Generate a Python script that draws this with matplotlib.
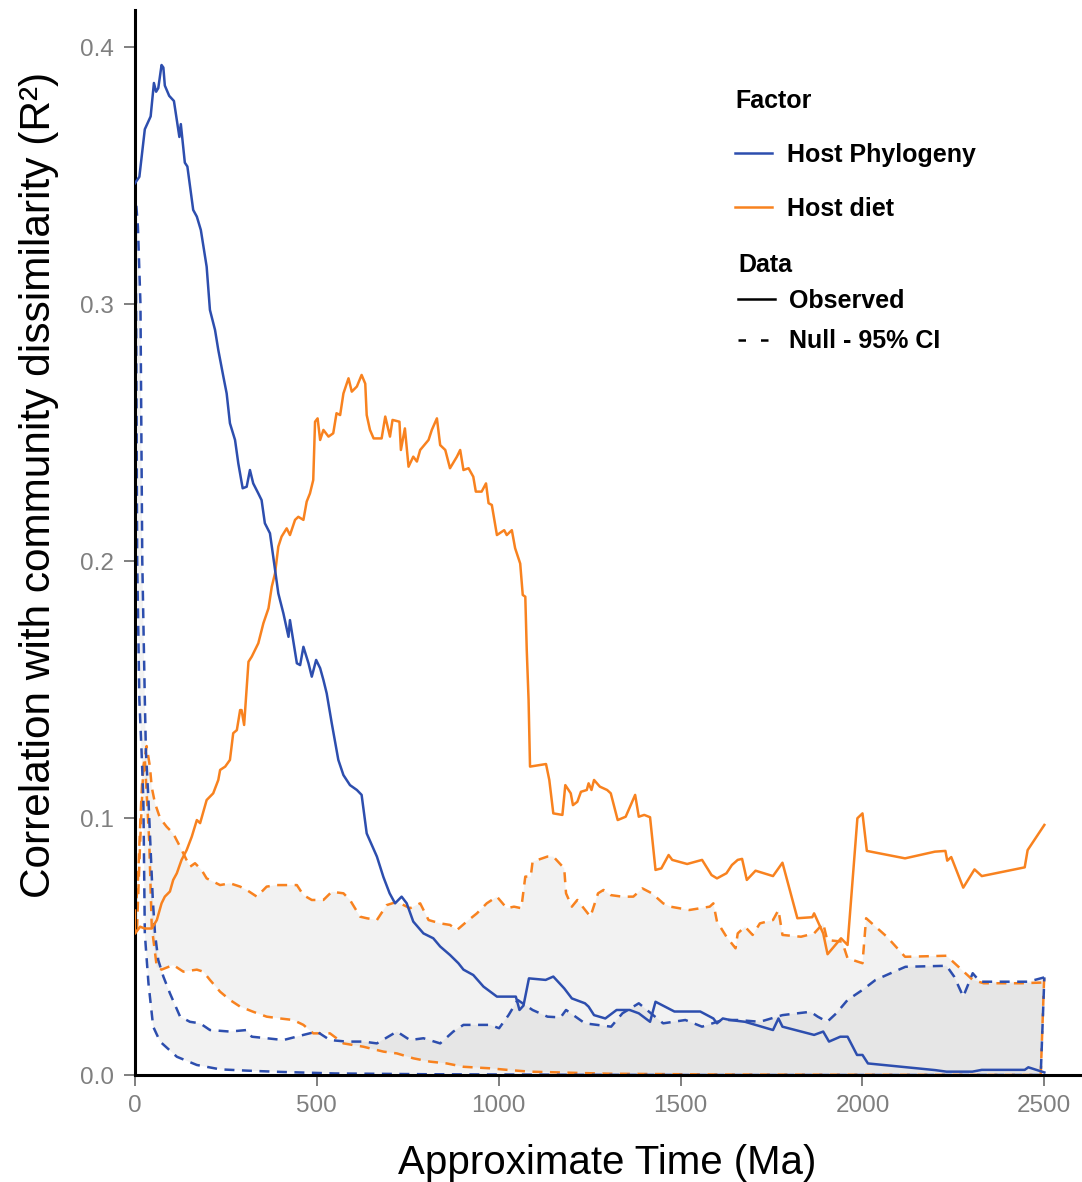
import numpy as np
import matplotlib
matplotlib.use('Agg')
import matplotlib.pyplot as plt
from matplotlib.lines import Line2D

plt.rcParams['font.family'] = ['Liberation Sans', 'DejaVu Sans']

# Observed - Host Phylogeny
phylo_x = [0, 12, 27, 43, 52, 58, 64, 73, 78, 82, 94, 107, 122, 126, 137, 144, 160, 170, 181, 197,
           206, 220, 229, 243, 252, 261, 275, 284, 296, 307, 316, 325, 339, 348, 357, 371, 380, 394,
           408, 422, 426, 445, 454, 463, 477, 486, 498, 509, 518, 527, 541, 559, 573, 591, 610, 623,
           637, 665, 683, 700, 715, 733, 747, 765, 793, 820, 839, 866, 889, 903, 930, 958, 995, 1047,
           1057, 1068, 1083, 1129, 1150, 1180, 1201, 1237, 1247, 1262, 1293, 1324, 1360, 1385, 1416,
           1431, 1483, 1554, 1590, 1600, 1616, 1636, 1677, 1754, 1769, 1780, 1867, 1892, 1908, 1939,
           1959, 1985, 2000, 2015, 2200, 2231, 2302, 2328, 2446, 2456, 2500]
phylo_y = [0.347, 0.3495, 0.368, 0.373, 0.386, 0.3826, 0.384, 0.393, 0.392, 0.385, 0.381, 0.379,
           0.365, 0.370, 0.355, 0.3535, 0.3366, 0.334, 0.3288, 0.3145, 0.2977, 0.2899, 0.2821,
           0.2717, 0.2652, 0.2536, 0.2471, 0.238, 0.2283, 0.2289, 0.2354, 0.2302, 0.2263, 0.2237,
           0.2147, 0.2108, 0.2017, 0.1874, 0.1796, 0.1705, 0.177, 0.1602, 0.1595, 0.1666, 0.1602,
           0.155, 0.1615, 0.1583, 0.1537, 0.1485, 0.1368, 0.1226, 0.1167, 0.1128, 0.1109, 0.109,
           0.094, 0.085, 0.077, 0.0707, 0.0668, 0.0694, 0.0668, 0.0597, 0.0551, 0.0532, 0.050,
           0.0467, 0.0435, 0.041, 0.0389, 0.0344, 0.0305, 0.0305, 0.0253, 0.027, 0.0376, 0.037,
           0.0383, 0.0337, 0.0298, 0.0279, 0.0266, 0.0233, 0.022, 0.0253, 0.0253, 0.024, 0.0207,
           0.0285, 0.0247, 0.0247, 0.022, 0.0201, 0.022, 0.0214, 0.0207, 0.0175, 0.022, 0.0188,
           0.0156, 0.0169, 0.013, 0.0149, 0.0149, 0.0078, 0.0078, 0.0045, 0.0019, 0.0013, 0.0013,
           0.002, 0.002, 0.003, 0.001]

# Observed - Host diet
diet_x = [0, 0, 14, 27, 46, 60, 73, 82, 96, 105, 115, 128, 142, 156, 170, 179, 197, 215, 229, 234,
          248, 261, 270, 280, 289, 293, 300, 312, 321, 339, 353, 367, 376, 385, 394, 403, 417, 426,
          440, 449, 463, 472, 481, 490, 495, 502, 509, 518, 532, 545, 554, 564, 573, 587, 596, 610,
          623, 633, 637, 646, 656, 678, 688, 701, 708, 727, 731, 742, 752, 765, 775, 784, 807, 816,
          830, 839, 853, 866, 885, 894, 903, 917, 930, 937, 953, 965, 972, 981, 995, 1015, 1022,
          1036, 1045, 1059, 1066, 1073, 1077, 1082, 1086, 1130, 1139, 1150, 1175, 1183, 1198, 1204,
          1216, 1226, 1242, 1247, 1255, 1262, 1278, 1298, 1308, 1327, 1349, 1375, 1385, 1400, 1416,
          1431, 1447, 1467, 1477, 1518, 1559, 1585, 1600, 1626, 1641, 1657, 1669, 1682, 1706, 1754,
          1780, 1821, 1862, 1867, 1892, 1904, 1941, 1959, 1986, 2000, 2012, 2117, 2199, 2228, 2233,
          2244, 2277, 2308, 2328, 2446, 2454, 2500]
diet_y = [0.064, 0.055, 0.0577, 0.057, 0.057, 0.0603, 0.0668, 0.0694, 0.0714, 0.0759, 0.0785,
          0.0837, 0.0875, 0.0927, 0.0992, 0.098, 0.107, 0.1096, 0.1148, 0.1187, 0.120, 0.1226,
          0.133, 0.1342, 0.142, 0.142, 0.1362, 0.1608, 0.1628, 0.168, 0.1758, 0.1816, 0.190,
          0.1952, 0.2056, 0.2095, 0.2127, 0.2101, 0.216, 0.2172, 0.216, 0.2231, 0.2263, 0.2315,
          0.2542, 0.2555, 0.2471, 0.251, 0.2484, 0.2497, 0.2575, 0.2568, 0.2652, 0.2711, 0.2659,
          0.2679, 0.2724, 0.269, 0.2568, 0.251, 0.2477, 0.2477, 0.2562, 0.2484, 0.2549, 0.2542,
          0.2432, 0.2516, 0.2367, 0.2406, 0.2387, 0.2432, 0.2471, 0.251, 0.2555, 0.2451, 0.2432,
          0.2361, 0.2406, 0.2432, 0.2354, 0.2361, 0.2328, 0.227, 0.227, 0.2302, 0.2225, 0.2218,
          0.2101, 0.212, 0.2101, 0.212, 0.205, 0.199, 0.1868, 0.1861, 0.1654, 0.146, 0.120, 0.121,
          0.1148, 0.1018, 0.1012, 0.1128, 0.1096, 0.105, 0.1063, 0.1102, 0.1109, 0.1135, 0.1109,
          0.1148, 0.1122, 0.1109, 0.1096, 0.0992, 0.1005, 0.109, 0.1005, 0.1012, 0.1003, 0.0798,
          0.0804, 0.0856, 0.0837, 0.0821, 0.0837, 0.0778, 0.0765, 0.0785, 0.0817, 0.0837, 0.0841,
          0.0759, 0.0795, 0.0774, 0.0826, 0.061, 0.0614, 0.0629, 0.0551, 0.047, 0.0532, 0.0506,
          0.0999, 0.1018, 0.0872, 0.0843, 0.0869, 0.0872, 0.0834, 0.0848, 0.0729, 0.080, 0.0774,
          0.0808, 0.0875, 0.0973]

# Null 95% CI - Host Phylogeny
phylo_hi_x = [0, 8, 15, 20, 27, 30, 37, 43, 49, 55, 64, 78, 96, 124, 151, 179, 206, 261, 307, 321,
              362, 408, 463, 500, 536, 582, 628, 665, 720, 756, 793, 839, 875, 903, 930, 976, 1001,
              1027, 1052, 1093, 1134, 1170, 1185, 1237, 1309, 1340, 1370, 1385, 1452, 1513, 1559,
              1616, 1657, 1718, 1780, 1821, 1857, 1877, 1903, 1928, 1959, 2000, 2036, 2087, 2118,
              2231, 2252, 2277, 2303, 2323, 2395, 2456, 2500]
phylo_hi_y = [0.345, 0.33, 0.30, 0.20, 0.146, 0.126, 0.107, 0.0875, 0.068, 0.055, 0.0447, 0.0383,
              0.0318, 0.0227, 0.0207, 0.0201, 0.0175, 0.0169, 0.0175, 0.0149, 0.0143, 0.0136,
              0.0156, 0.0169, 0.0136, 0.013, 0.013, 0.0123, 0.0169, 0.0136, 0.0143, 0.0123, 0.0169,
              0.0195, 0.0195, 0.0195, 0.0182, 0.0233, 0.0292, 0.0253, 0.0227, 0.0224, 0.0253,
              0.0201, 0.0188, 0.024, 0.0266, 0.0279, 0.0201, 0.0214, 0.0188, 0.0214, 0.0214,
              0.0207, 0.0233, 0.024, 0.0246, 0.0227, 0.0207, 0.024, 0.0292, 0.0331, 0.037, 0.0402,
              0.0421, 0.0425, 0.0383, 0.0305, 0.0396, 0.0363, 0.0363, 0.0363, 0.038]
phylo_lo_x = [0, 3, 6, 12, 18, 23, 25, 27, 37, 50, 69, 115, 170, 234, 307, 400, 550, 800, 1200,
              1600, 2000, 2490, 2500]
phylo_lo_y = [0.345, 0.30, 0.20, 0.146, 0.126, 0.107, 0.081, 0.055, 0.0357, 0.0188, 0.013, 0.0071,
              0.0039, 0.0022, 0.0017, 0.0012, 0.0006, 0.0003, 0.0001, 0.0, 0.0, 0.0, 0.038]

# Null 95% CI - Host diet
diet_hi_x = [0, 5, 14, 23, 32, 41, 46, 55, 69, 87, 105, 124, 151, 165, 183, 197, 234, 261, 289, 307,
             335, 362, 390, 417, 445, 463, 486, 518, 541, 573, 591, 619, 637, 665, 692, 720, 756,
             784, 807, 839, 866, 885, 912, 940, 967, 995, 1022, 1042, 1062, 1073, 1088, 1093, 1134,
             1150, 1180, 1185, 1201, 1216, 1252, 1273, 1288, 1308, 1339, 1370, 1395, 1421, 1452,
             1472, 1524, 1580, 1590, 1600, 1626, 1651, 1657, 1677, 1698, 1718, 1754, 1769, 1780,
             1831, 1867, 1892, 1903, 1944, 1959, 2000, 2010, 2067, 2117, 2231, 2303, 2333, 2436,
             2500]
diet_hi_y = [0.06, 0.055, 0.09, 0.12, 0.128, 0.12, 0.112, 0.1057, 0.0999, 0.0966, 0.094, 0.0888,
             0.081, 0.0824, 0.0798, 0.0765, 0.0739, 0.0746, 0.0733, 0.072, 0.0694, 0.0733, 0.0739,
             0.0739, 0.0739, 0.070, 0.0681, 0.0681, 0.0713, 0.0707, 0.0681, 0.0616, 0.061, 0.0603,
             0.0661, 0.0674, 0.0649, 0.0668, 0.0603, 0.059, 0.0584, 0.0564, 0.0597, 0.0629, 0.0668,
             0.0694, 0.0649, 0.0655, 0.0649, 0.0772, 0.0772, 0.083, 0.085, 0.085, 0.0804, 0.0707,
             0.0655, 0.0681, 0.0616, 0.0707, 0.072, 0.070, 0.0694, 0.0694, 0.0726, 0.0707, 0.0668,
             0.0655, 0.0642, 0.0655, 0.0668, 0.0597, 0.0538, 0.0493, 0.0551, 0.0577, 0.0545, 0.059,
             0.0603, 0.0642, 0.0545, 0.0538, 0.0551, 0.059, 0.0525, 0.0519, 0.0454, 0.0435, 0.061,
             0.0538, 0.046, 0.0464, 0.037, 0.0357, 0.0357, 0.036]
diet_lo_x = [0, 8, 15, 20, 27, 39, 46, 60, 73, 105, 133, 170, 188, 206, 234, 261, 289, 325, 362, 399,
             435, 463, 490, 536, 573, 628, 683, 720, 765, 811, 857, 903, 976, 1031, 1086, 1300, 1600,
             2000, 2490, 2500]
diet_lo_y = [0.062, 0.075, 0.10, 0.115, 0.1226, 0.0914, 0.0577, 0.042, 0.041, 0.0428, 0.0402, 0.041,
             0.0402, 0.037, 0.0324, 0.0292, 0.0266, 0.0246, 0.0227, 0.022, 0.0214, 0.0195, 0.0162,
             0.0162, 0.0123, 0.011, 0.0091, 0.0084, 0.0065, 0.0052, 0.0045, 0.0032, 0.0026, 0.0019,
             0.0013, 0.0005, 0.0002, 0.0001, 0.0, 0.040]

x_ticks = [0, 500, 1000, 1500, 2000, 2500]
y_ticks = [0.0, 0.1, 0.2, 0.3, 0.4]

blue = '#2D4EAE'
orange = '#F8821F'
dash = (4, 3)

fig = plt.figure(figsize=(10.82, 11.82), dpi=100)
ax = fig.add_axes([135 / 1082, 1 - 1075 / 1182, (1080 - 135) / 1082, (1075 - 10) / 1182])

# ribbons
ax.fill(np.concatenate([phylo_hi_x, phylo_lo_x[::-1]]), np.concatenate([phylo_hi_y, phylo_lo_y[::-1]]),
        color='gray', alpha=0.1, lw=0, zorder=1)
ax.fill(np.concatenate([diet_hi_x, diet_lo_x[::-1]]), np.concatenate([diet_hi_y, diet_lo_y[::-1]]),
        color='gray', alpha=0.1, lw=0, zorder=1)

lw = 1.8
ax.plot(diet_hi_x, diet_hi_y, color=orange, lw=lw, dashes=dash, zorder=2)
ax.plot(diet_lo_x, diet_lo_y, color=orange, lw=lw, dashes=dash, zorder=2)
ax.plot(phylo_hi_x, phylo_hi_y, color=blue, lw=lw, dashes=dash, zorder=2)
ax.plot(phylo_lo_x, phylo_lo_y, color=blue, lw=lw, dashes=dash, zorder=2)
ax.plot(diet_x, diet_y, color=orange, lw=lw, zorder=3)
ax.plot(phylo_x, phylo_y, color=blue, lw=lw, zorder=3)

ax.set_xlim(0, 2598)
ax.set_ylim(0, 0.4144)
ax.set_xticks(x_ticks)
ax.set_yticks(y_ticks)
ax.set_yticklabels(['%.1f' % v for v in y_ticks])
ax.tick_params(colors='#7F7F7F', labelsize=17.5, length=8, width=1.4)
ax.tick_params(axis='x', pad=6.5)
ax.tick_params(axis='y', pad=7)
for s in ['top', 'right']:
    ax.spines[s].set_visible(False)
for s in ['left', 'bottom']:
    ax.spines[s].set_linewidth(2.2)
    ax.spines[s].set_color('black')

ax.set_xlabel('Approximate Time (Ma)', fontsize=29, labelpad=19)
ax.set_ylabel('Correlation with community dissimilarity (R²)', fontsize=30.5)
ax.yaxis.set_label_coords(-0.08, 0.554)

# legends
h1 = [Line2D([], [], color=blue, lw=lw), Line2D([], [], color=orange, lw=lw)]
leg1 = fig.legend(h1, ['Host Phylogeny', 'Host diet'], title='Factor', loc='upper left',
                  bbox_to_anchor=(735 / 1082, 1 - 89 / 1182), frameon=False,
                  prop={'size': 18, 'weight': 'bold'}, title_fontproperties={'size': 18, 'weight': 'bold'},
                  handlelength=1.48, handletextpad=0.6, labelspacing=1.2, alignment='left',
                  borderpad=0, borderaxespad=0)
h2 = [Line2D([], [], color='black', lw=lw), Line2D([], [], color='black', lw=lw, dashes=(3, 6))]
leg2 = fig.legend(h2, ['Observed', 'Null - 95% CI'], title='Data', loc='upper left',
                  bbox_to_anchor=(738 / 1082, 1 - 253 / 1182), frameon=False,
                  prop={'size': 18, 'weight': 'bold'}, title_fontproperties={'size': 18, 'weight': 'bold'},
                  handlelength=1.48, handletextpad=0.56, labelspacing=0.65, alignment='left',
                  borderpad=0, borderaxespad=0)
leg2._legend_box.sep = 8.8

fig.savefig('out.png', dpi=100)
